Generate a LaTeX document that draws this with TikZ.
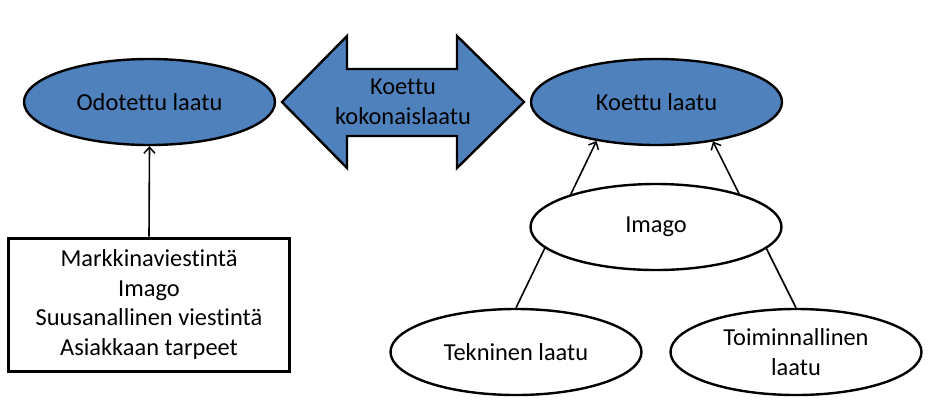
\documentclass[tikz,border=0pt]{standalone}
\usepackage{fontspec}
\setmainfont[Ligatures=CommonOff]{Carlito}
\usetikzlibrary{arrows.meta,shapes.geometric}
\definecolor{oblue}{HTML}{4F81BD}
\begin{document}
\begin{tikzpicture}[x=1bp,y=-1bp,
  every node/.style={font=\fontsize{24.4bp}{29.5bp}\selectfont, align=center, inner sep=0pt, text=black},
  ell/.style={ellipse, draw=black, line width=2.4bp, minimum width=251bp, minimum height=86bp},
  blueell/.style={ell, fill=oblue},
  whiteell/.style={ell, fill=white},
  conn/.style={line width=1.6bp, -{Straight Barb[length=6bp,width=11bp,line width=1.5bp]}},
  bigarrow/.style={draw=black, fill=oblue, line width=2.4bp, line join=miter},
  listbox/.style={draw=black, fill=white, line width=3bp, minimum width=280bp, minimum height=133bp},
]
\useasboundingbox (0,0) rectangle (937,411);

% left side
\node[blueell] (odot) at (149.5,102) {Odotettu laatu};
\node[listbox] (box) at (149,304.5) {Markkinaviestintä\\Imago\\Suusanallinen viestintä\\Asiakkaan tarpeet};
\draw[conn] (box.north) -- (odot.south);

% double arrow
\draw[bigarrow] (282,102) -- (347,36) -- (347,69) -- (457,69) -- (457,36) -- (524,102)
  -- (457,168) -- (457,136) -- (347,136) -- (347,168) -- cycle;
\node (koko) at (403,102) {Koettu\\kokonaislaatu};

% right side
\node[blueell] (koettu) at (656.5,102) {Koettu laatu};
\node[whiteell] (tek) at (516,352) {Tekninen laatu};
\node[whiteell] (toim) at (796,352) {Toiminnallinen\\laatu};
\draw[conn] (tek.north) -- (koettu.213.75);
\draw[conn] (toim.north) -- (koettu.325.2);
\node[whiteell] (imago) at (656,227) {Imago};
\end{tikzpicture}
\end{document}
